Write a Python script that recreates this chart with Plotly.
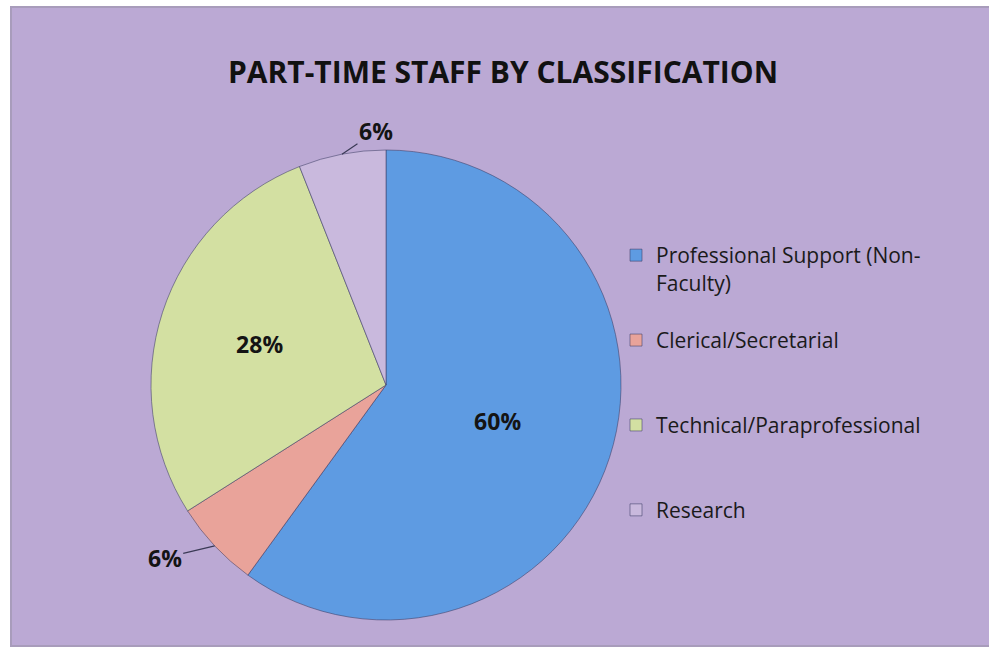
import math
import plotly.graph_objects as go

categories = ["Professional Support (Non-<br>Faculty)<br> ",
              "Clerical/Secretarial<br> <br> ",
              "Technical/Paraprofessional<br> <br> ",
              "Research"]
values = [60, 6, 28, 6]
colors = ["#5E9BE2", "#E9A39A", "#D3E0A2", "#C9B9DD"]
inside_label = [True, False, True, False]
# offsets (px) of the outside labels from the slice rim
outside_offsets = {1: (-50, 12), 3: (34, -23)}

W, H = 989, 650
cx, cy, r = 386, 385, 235
total = sum(values)

fig = go.Figure(go.Pie(
    labels=categories,
    values=values,
    sort=False,
    direction="clockwise",
    rotation=0,
    marker=dict(colors=colors, line=dict(color="rgba(60,60,100,0.55)", width=1)),
    texttemplate=["%{percent:.0%}" if i else "" for i in inside_label],
    textposition="inside",
    textfont=dict(family="Open Sans", size=23, color="#141414", weight="bold"),
    insidetextorientation="horizontal",
    domain=dict(x=[(cx - r) / W, (cx + r) / W], y=[(H - cy - r) / H, (H - cy + r) / H]),
    hoverinfo="skip",
))

# outside labels with leader lines, anchored at each slice's mid-angle on the rim
annotations = []
cum = 0
for i, v in enumerate(values):
    mid = (cum + v / 2) / total * 2 * math.pi
    cum += v
    if inside_label[i]:
        continue
    px = cx + r * math.sin(mid)
    py = cy - r * math.cos(mid)
    ax, ay = outside_offsets[i]
    annotations.append(dict(
        x=px / W, y=(H - py) / H, xref="paper", yref="paper",
        text=f"{round(v / total * 100)}%", showarrow=True, arrowhead=0,
        arrowwidth=1.2, arrowcolor="#3a3a55", ax=ax, ay=ay, standoff=0,
        font=dict(family="Open Sans", size=23, color="#141414", weight="bold"),
    ))

fig.update_layout(
    width=W, height=H,
    margin=dict(l=0, r=0, t=0, b=0),
    paper_bgcolor="white",
    plot_bgcolor="rgba(0,0,0,0)",
    shapes=[dict(type="rect", xref="paper", yref="paper",
                 x0=11 / W, x1=1.02, y0=(H - 646) / H, y1=(H - 7) / H,
                 fillcolor="#BBA9D4", line=dict(color="#A89CBB", width=2), layer="below")],
    annotations=annotations,
    title=dict(text="PART-TIME STAFF BY CLASSIFICATION", x=503 / W, xanchor="center",
               y=(H - 72) / H, yanchor="middle",
               font=dict(family="Open Sans", size=30, color="#111111", weight="bold")),
    legend=dict(x=616 / W, xanchor="left", y=(H - 235) / H, yanchor="top",
                font=dict(family="Open Sans", size=21, color="#1a1a1a"),
                valign="top", bgcolor="rgba(0,0,0,0)", traceorder="normal"),
    showlegend=True,
)

fig.write_html("out.html", config={"displayModeBar": False},
               post_script="document.body.style.margin='0';")
